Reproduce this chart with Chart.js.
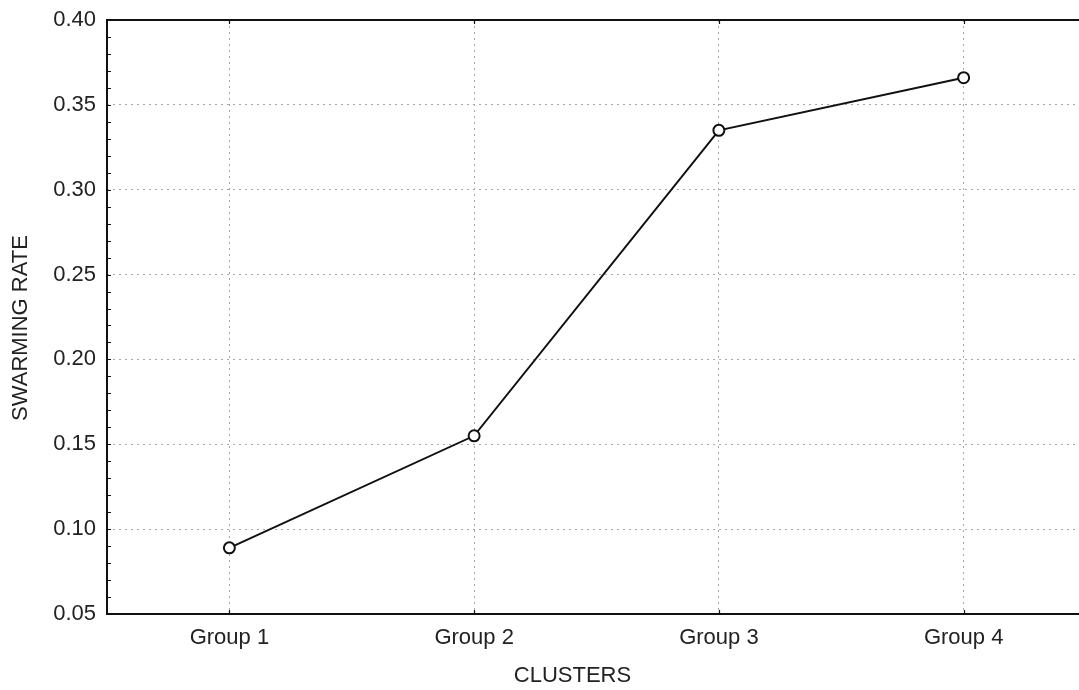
<!DOCTYPE html>
<html>
<head>
<meta charset="utf-8">
<script src="https://cdn.jsdelivr.net/npm/chart.js@4"></script>
<style>
  html, body { margin: 0; padding: 0; background: #fff; overflow: hidden; }
</style>
</head>
<body>
<canvas id="chart" width="1087" height="690"></canvas>
<script>
// values
const categories = ["Group 1", "Group 2", "Group 3", "Group 4"];
const swarmingRate = [0.089, 0.155, 0.335, 0.366];
const yMin = 0.05;
const yMax = 0.40;
const yStep = 0.05;
const yMinorStep = 0.01;
const xTitle = "CLUSTERS";
const yTitle = "SWARMING RATE";

const fontFamily = "'Liberation Sans', Arial, Helvetica, sans-serif";

// frame, small inward ticks and the axis titles (placed a bit off-centre like the scan)
const framePlugin = {
  id: "frame",
  afterDraw(chart) {
    const { ctx, chartArea, scales } = chart;
    const y = scales.y, x = scales.x;
    ctx.save();
    ctx.strokeStyle = "#111";
    ctx.lineWidth = 1.2;
    ctx.beginPath();
    for (let v = yMin; v <= yMax + 1e-9; v += yMinorStep) {
      const py = Math.round(y.getPixelForValue(v)) + 0.5;
      ctx.moveTo(chartArea.left, py);
      ctx.lineTo(chartArea.left + 4, py);
    }
    categories.forEach((c, i) => {
      const px = Math.round(x.getPixelForValue(i)) + 0.5;
      ctx.moveTo(px, chartArea.bottom);
      ctx.lineTo(px, chartArea.bottom - 4);
      ctx.moveTo(px, chartArea.top);
      ctx.lineTo(px, chartArea.top + 4);
    });
    ctx.stroke();
    ctx.lineWidth = 2;
    ctx.strokeRect(chartArea.left, chartArea.top, chartArea.right - chartArea.left, chartArea.bottom - chartArea.top);

    ctx.fillStyle = "#222";
    ctx.font = "22px " + fontFamily;
    ctx.textAlign = "center";
    ctx.textBaseline = "middle";
    ctx.fillText(xTitle, (chartArea.left + chartArea.right) / 2 - 24, 676);
    ctx.translate(21, (chartArea.top + chartArea.bottom) / 2 + 11);
    ctx.rotate(-Math.PI / 2);
    ctx.fillText(yTitle, 0, 0);
    ctx.restore();
  }
};

new Chart(document.getElementById("chart"), {
  type: "line",
  data: {
    labels: categories,
    datasets: [{
      data: swarmingRate,
      borderColor: "#111",
      borderWidth: 2,
      pointRadius: 5.5,
      pointBorderWidth: 2,
      pointBackgroundColor: "#fff",
      pointBorderColor: "#111",
      tension: 0
    }]
  },
  options: {
    responsive: false,
    animation: false,
    layout: { autoPadding: false, padding: { top: 20, right: 1, left: 0, bottom: 0 } },
    plugins: { legend: { display: false }, tooltip: { enabled: false } },
    scales: {
      x: {
        offset: true,
        afterFit: (s) => { s.height = 76; s.paddingLeft = 0; s.paddingRight = 0; },
        grid: { offset: false, drawTicks: false, color: "#a8a8a8", lineWidth: 1 },
        border: { display: false, dash: [2, 4] },
        ticks: { color: "#222", padding: 11, font: { family: fontFamily, size: 22 } }
      },
      y: {
        min: yMin,
        max: yMax,
        afterFit: (s) => { s.width = 107; s.paddingTop = 0; s.paddingBottom = 0; },
        grid: { drawTicks: false, color: "#a8a8a8", lineWidth: 1 },
        border: { display: false, dash: [2, 4] },
        ticks: {
          stepSize: yStep, color: "#222", padding: 11,
          font: { family: fontFamily, size: 22 },
          callback: (v) => v.toFixed(2)
        }
      }
    }
  },
  plugins: [framePlugin]
});
</script>
</body>
</html>
